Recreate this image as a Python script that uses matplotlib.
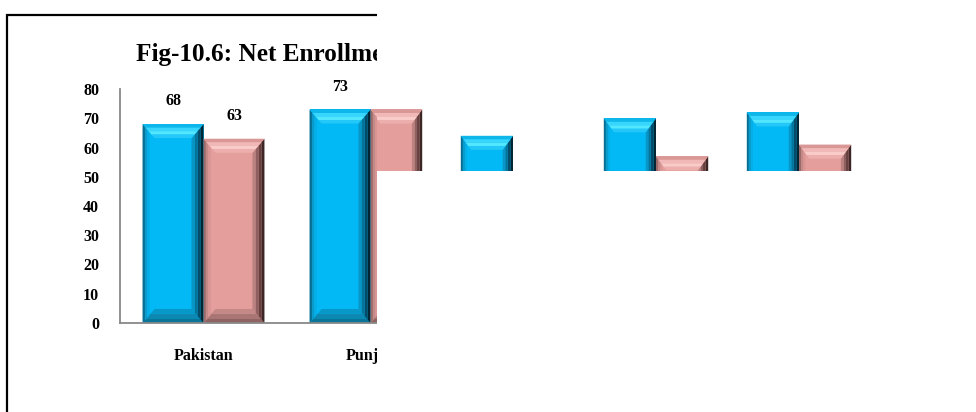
import matplotlib.pyplot as plt
from matplotlib.patches import Rectangle

# Data
categories = ['Pakistan', 'Punjab', 'Sindh', 'KP', 'Balochistan']
series_a = [68, 73, 64, 70, 72]   # blue bars
series_b = [63, 73, 48, 57, 61]   # pink bars
yticks = [0, 10, 20, 30, 40, 50, 60, 70, 80]
title = 'Fig-10.6: Net Enrollment Rate at Primary Level'

W, H = 976, 412
# bevel shading: lists of colours from outer edge to inner edge
blue = dict(main='#02B9F5',
            top=['#0FB6EA', '#38D6FC', '#52E6FF', '#24C8F8'],
            bottom=['#0A7598', '#0C88B2', '#0898C8'],
            left=['#086F93', '#0A9ACB', '#05AEE6'],
            right=['#022634', '#044C69', '#067399', '#0996C7'])
pink = dict(main='#E49E9C',
            top=['#D99896', '#F0B8B6', '#F9CBC9', '#EDAFAD'],
            bottom=['#8E6362', '#A97675', '#C48987'],
            left=['#9B6C6B', '#C48A88', '#D89593'],
            right=['#3C2626', '#65403F', '#8F605F', '#BA8381'])

plt.rcParams['font.family'] = ['Liberation Serif', 'DejaVu Serif']
plt.rcParams['font.weight'] = 'bold'


def bevel_bars(ax, xs, vals, width, c, zorder=2):
    bx, by = 0.072, 4.8
    for x, h in zip(xs, vals):
        x0, x1 = x - width / 2, x + width / 2
        ax.bar(x, h, width, color=c['main'], zorder=zorder)
        for side in ['bottom', 'left', 'right', 'top']:
            cols = c[side]
            n = len(cols)
            for k, col in enumerate(cols):
                f0, f1 = k / n, (k + 1) / n
                if side == 'top':
                    px = [x0 + bx * f0, x1 - bx * f0, x1 - bx * f1, x0 + bx * f1]
                    py = [h - by * f0, h - by * f0, h - by * f1, h - by * f1]
                elif side == 'bottom':
                    px = [x0 + bx * f0, x1 - bx * f0, x1 - bx * f1, x0 + bx * f1]
                    py = [by * f0, by * f0, by * f1, by * f1]
                elif side == 'right':
                    px = [x1 - bx * f0, x1 - bx * f0, x1 - bx * f1, x1 - bx * f1]
                    py = [by * f0, h - by * f0, h - by * f1, by * f1]
                else:
                    px = [x0 + bx * f0 * 0.6, x0 + bx * f0 * 0.6, x0 + bx * f1 * 0.6, x0 + bx * f1 * 0.6]
                    py = [by * f0 * 0.6, h - by * f0 * 0.6, h - by * f1 * 0.6, by * f1 * 0.6]
                ax.fill(px, py, color=col, lw=0, zorder=zorder + 0.1)


fig = plt.figure(figsize=(W / 100, H / 100), dpi=100)

# main chart (only its left part survives in the reference)
ax = fig.add_axes([120 / W, (H - 323) / H, 835 / W, (323 - 89) / H])
xs = list(range(len(categories)))
bw = 0.365
bevel_bars(ax, [x - bw / 2 for x in xs], series_a, bw, blue)
bevel_bars(ax, [x + bw / 2 for x in xs], series_b, bw, pink)
for x, a, b in zip(xs, series_a, series_b):
    ax.text(x - bw / 2, a + 5, str(a), ha='center', va='bottom', fontsize=11.5, fontweight='bold')
    ax.text(x + bw / 2, b + 5, str(b), ha='center', va='bottom', fontsize=11.5, fontweight='bold')
ax.set_xlim(-0.5, len(categories) - 0.5)
ax.set_ylim(0, 80)
ax.set_yticks(yticks)
ax.set_xticks(xs)
ax.set_xticklabels(categories)
ax.tick_params(length=0, labelsize=11.5)
ax.tick_params(axis='y', pad=15)
ax.tick_params(axis='x', pad=18)
for s in ['top', 'right']:
    ax.spines[s].set_visible(False)
for s in ['left', 'bottom']:
    ax.spines[s].set_color('#888888')
    ax.spines[s].set_linewidth(1.3)

fig.text(136.5 / W, 1 - 60.5 / H, title, fontsize=18.2, fontweight='bold', va='baseline', ha='left',
         zorder=0.5)
fig.add_artist(Rectangle((7 / W, -0.1), (969 - 7) / W, 1.1 - 15 / H, transform=fig.transFigure,
                         fill=False, ec='black', lw=1.6, zorder=0.5))

# blank out the rest of the canvas
fig.add_artist(Rectangle((377 / W, 0), 1, 1, transform=fig.transFigure, fc='white', ec='none', zorder=1))

# leftover strip of bars on the right
ax2 = fig.add_axes([377 / W, (H - 171) / H, (W - 377) / W, (171 - 100) / H])
ax2.set_zorder(2)
bevel_bars(ax2, [x - bw / 2 for x in xs], series_a, bw, blue)
bevel_bars(ax2, [x + bw / 2 for x in xs], series_b, bw, pink)
ax2.set_xlim((377 - 227) / 143, (976 - 227) / 143)
ax2.set_ylim((323 - 171) / 2.925, (323 - 100) / 2.925)
ax2.axis('off')

fig.savefig('out.png', dpi=100)
